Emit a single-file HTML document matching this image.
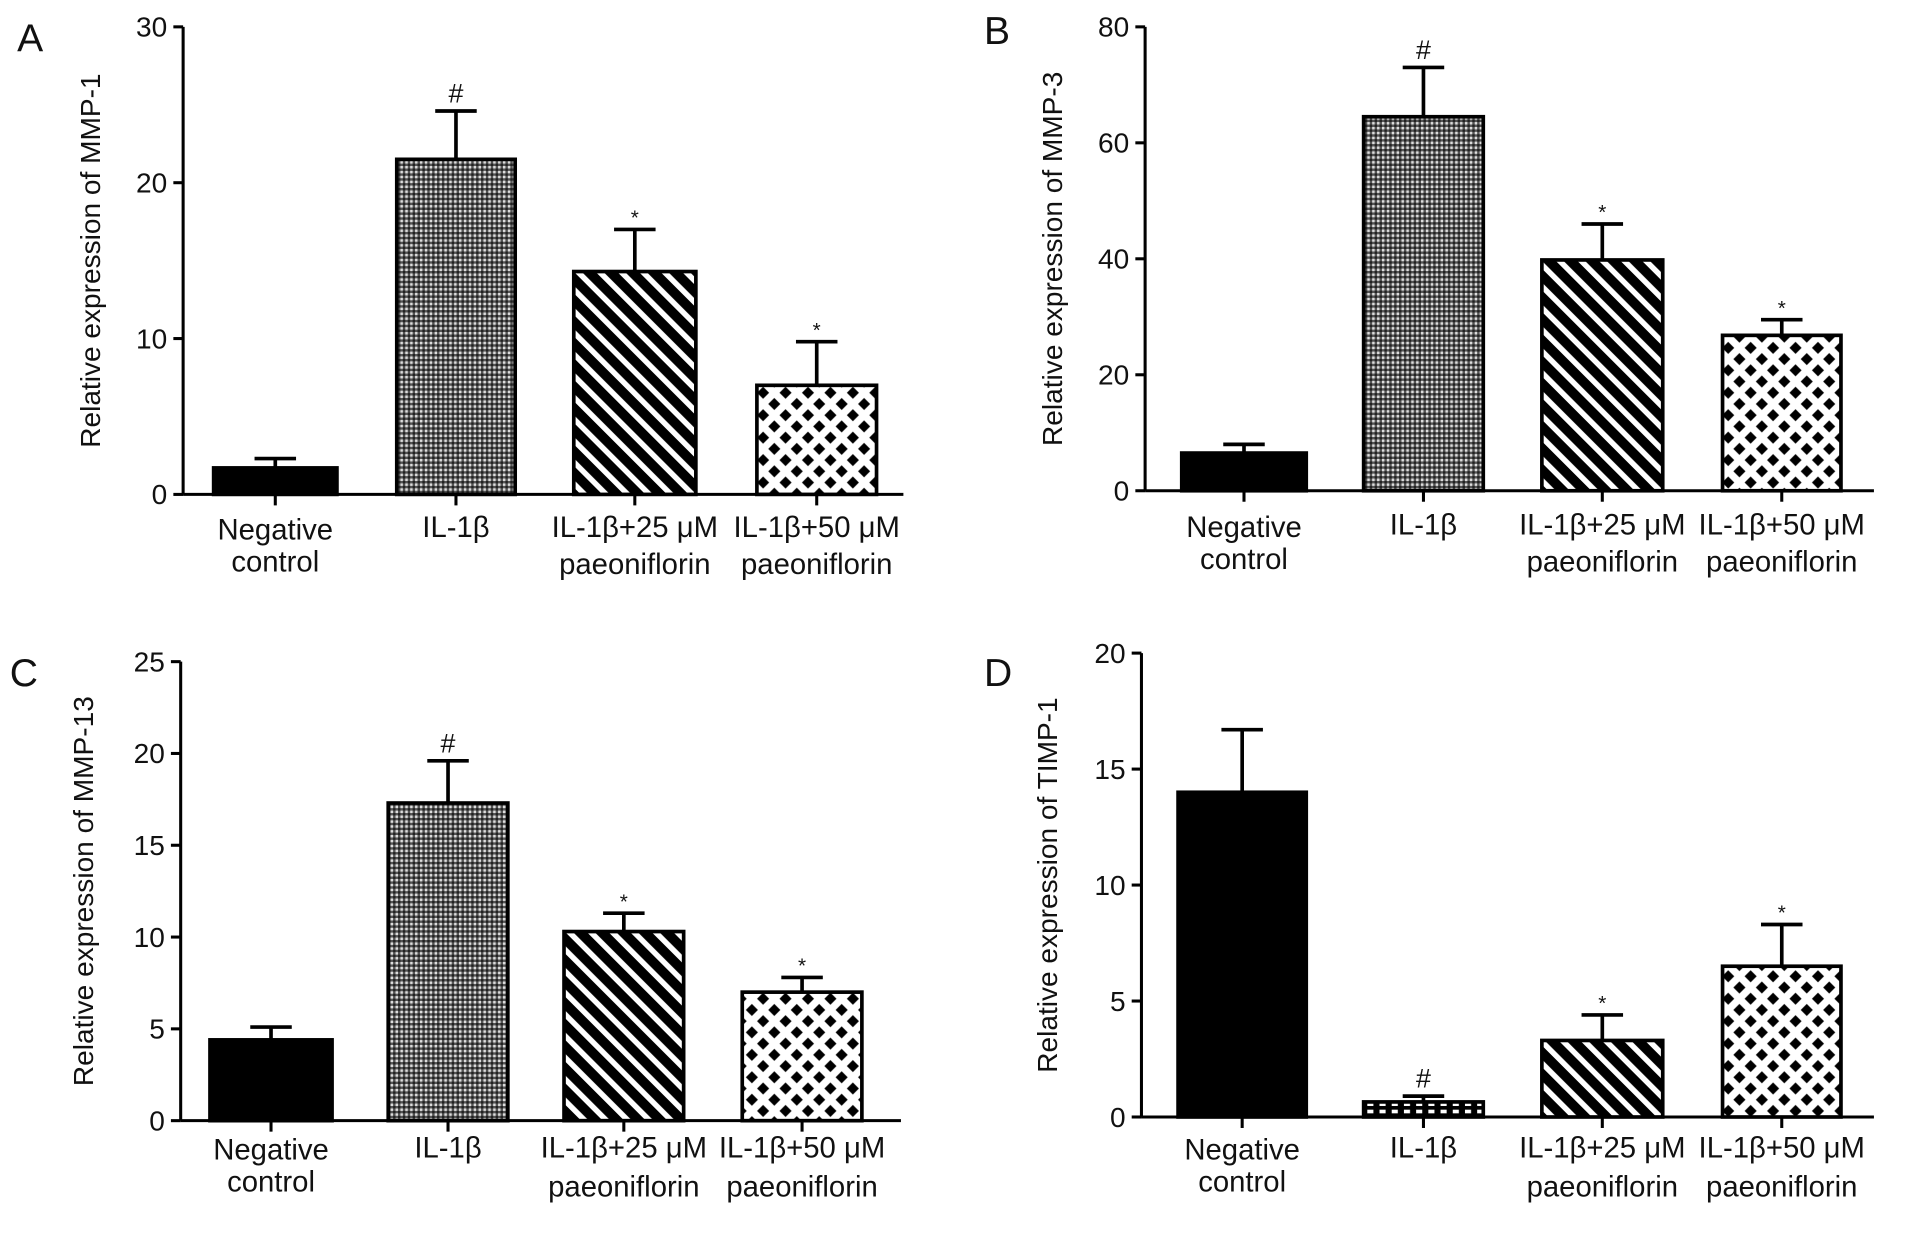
<!DOCTYPE html>
<html><head><meta charset="utf-8"><style>
html,body{margin:0;padding:0;background:#fff;}
svg{display:block;}
text{font-family:"Liberation Sans",Arial,sans-serif;fill:#111;}
</style></head><body>
<svg id="fig" width="1913" height="1237" viewBox="0 0 1567 1013.3" preserveAspectRatio="none" xmlns="http://www.w3.org/2000/svg">
<defs>
<pattern id="pChk" width="4" height="4" patternUnits="userSpaceOnUse"><rect width="4" height="4" fill="#555"/><rect width="2" height="2" fill="#ddd"/><rect x="2" y="2" width="2" height="2" fill="#222"/></pattern>
<pattern id="pStr" width="12.5" height="12.5" patternUnits="userSpaceOnUse" patternTransform="rotate(-45)"><rect width="12.5" height="12.5" fill="#000"/><rect width="4.5" height="12.5" fill="#fff"/></pattern>
<pattern id="pDia" width="13" height="13" patternUnits="userSpaceOnUse" patternTransform="rotate(45)"><rect width="13" height="13" fill="#fff"/><rect x="3" y="3" width="7" height="7" fill="#000"/></pattern>
<pattern id="pChkD" width="10" height="6" patternUnits="userSpaceOnUse"><rect width="10" height="6" fill="#000"/><rect x="0" y="3" width="5" height="3" fill="#fff"/></pattern>
</defs>
</svg>
<script>
const catsLine1 = ["Negative","IL-1β","IL-1β+25 μM","IL-1β+50 μM"];
const catsLine2 = ["control","","paeoniflorin","paeoniflorin"];
const valsA = [1.7,21.5,14.3,7.0];
const errA  = [2.3,24.6,17.0,9.8];
const valsB = [6.5,64.5,39.8,26.8];
const errB  = [8.0,73.0,46.0,29.5];
const valsC = [4.4,17.3,10.3,7.0];
const errC  = [5.1,19.6,11.3,7.8];
const valsD = [14.0,0.65,3.3,6.5];
const errD  = [16.7,0.9,4.4,8.3];
const ticksA = [0,10,20,30];
const ticksB = [0,20,40,60,80];
const ticksC = [0,5,10,15,20,25];
const ticksD = [0,5,10,15,20];
const marksA = ["","#","*","*"];
const marksB = ["","#","*","*"];
const marksC = ["","#","*","*"];
const marksD = ["","#","*","*"];

const NS="http://www.w3.org/2000/svg";
const svg=document.getElementById('fig');
function mk(tag,attrs,parent){const e=document.createElementNS(NS,tag);for(const k in attrs)e.setAttribute(k,attrs[k]);(parent||svg).appendChild(e);return e;}

const panels=[
 {id:'a',letter:'A',lx:14,ly:42,ax:150,x1:740,top:22,bot:405,max:30,ticks:ticksA,vals:valsA,err:errA,marks:marksA,title:'Relative expression of MMP-1',tx:82,bars:[[175,276],[325,422],[470,570],[620,718]],lab1:442,lab2:470,fills:['#000','url(#pChk)','url(#pStr)','url(#pDia)']},
 {id:'b',letter:'B',lx:806,ly:36,ax:938,x1:1535,top:22,bot:402,max:80,ticks:ticksB,vals:valsB,err:errB,marks:marksB,title:'Relative expression of MMP-3',tx:870,bars:[[968,1070],[1117,1215],[1263,1362],[1411,1508]],lab1:440,lab2:468,fills:['#000','url(#pChk)','url(#pStr)','url(#pDia)']},
 {id:'c',letter:'C',lx:8,ly:562,ax:148,x1:738,top:542,bot:918,max:25,ticks:ticksC,vals:valsC,err:errC,marks:marksC,title:'Relative expression of MMP-13',tx:76,bars:[[172,272],[318,416],[462,560],[608,706]],lab1:950,lab2:980,fills:['#000','url(#pChk)','url(#pStr)','url(#pDia)']},
 {id:'d',letter:'D',lx:806,ly:562,ax:935,x1:1535,top:535,bot:915,max:20,ticks:ticksD,vals:valsD,err:errD,marks:marksD,title:'Relative expression of TIMP-1',tx:866,bars:[[965,1070],[1117,1215],[1263,1362],[1411,1508]],lab1:950,lab2:980,fills:['#000','url(#pChkD)','url(#pStr)','url(#pDia)']}
];

panels.forEach(p=>{
  const g=mk('g',{});
  
  
  const y=v=>p.bot-(v/p.max)*(p.bot-p.top);
  const L=mk('text',{x:p.lx,y:p.ly,'font-size':32},g);L.textContent=p.letter;
  
  
  const ya=mk('line',{x1:p.ax,y1:p.top,x2:p.ax,y2:p.bot,stroke:'#000','stroke-width':2.5},g);
  
  
  const xa=mk('line',{x1:p.ax,y1:p.bot,x2:p.x1,y2:p.bot,stroke:'#000','stroke-width':2.5},g);
  
  
  p.ticks.forEach(t=>{
    mk('line',{x1:p.ax-8,y1:y(t),x2:p.ax,y2:y(t),stroke:'#000','stroke-width':2.5},g);
    const tl=mk('text',{x:p.ax-13,y:y(t)+8,'font-size':23,'text-anchor':'end'},g);tl.textContent=t;
    
    
  });
  const cy=(p.top+p.bot)/2;
  const yt=mk('text',{x:p.tx,y:cy,'font-size':23,'text-anchor':'middle',transform:`rotate(-90 ${p.tx} ${cy})`},g);
  yt.textContent=p.title;
  
  
  p.bars.forEach((b,i)=>{
    const cx=(b[0]+b[1])/2;
    const ey=y(p.err[i]);
    mk('line',{x1:cx,y1:ey,x2:cx,y2:y(p.vals[i]),stroke:'#000','stroke-width':3},g);
    mk('line',{x1:cx-17,y1:ey,x2:cx+17,y2:ey,stroke:'#000','stroke-width':3},g);
    const r=mk('rect',{x:b[0],y:y(p.vals[i]),width:b[1]-b[0],height:p.bot-y(p.vals[i]),fill:p.fills[i],stroke:'#000','stroke-width':3},g);
    
    
    mk('line',{x1:cx,y1:p.bot,x2:cx,y2:p.bot+9,stroke:'#000','stroke-width':2.5},g);
    if(p.marks[i]){
      const m=mk('text',{x:cx,y:ey-(p.marks[i]==='#'?7:4),'font-size':p.marks[i]==='#'?22:17,'text-anchor':'middle'},g);
      m.textContent=p.marks[i];
      
      
    }
    const l1=mk('text',{x:cx,y:i===0?p.lab1:p.lab1-2,'font-size':24,'text-anchor':'middle'},g);
    l1.textContent=catsLine1[i];
    
    
    if(catsLine2[i]){
      const l2=mk('text',{x:cx,y:i===0?p.lab1+26:p.lab2,'font-size':24,'text-anchor':'middle'},g);
      l2.textContent=catsLine2[i];
      
      
    }
  });
});
</script>
</body></html>
